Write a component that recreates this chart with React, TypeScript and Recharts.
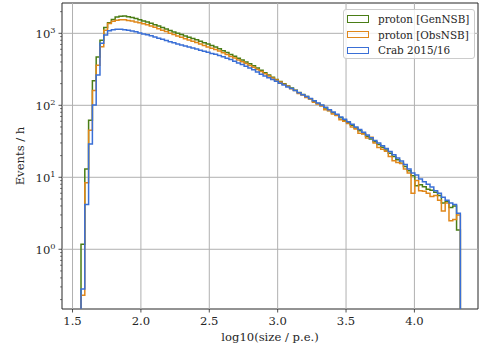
import React from "react";
import { ComposedChart, Line, XAxis, YAxis, ReferenceLine, ReferenceArea } from "recharts";

// Histogram binning (log10 of size in p.e.)
const BIN_START = 1.562;
const BIN_WIDTH = 0.02774;

const GEN_NSB = [
  1.17, 13, 62, 220, 470, 800, 1200, 1400, 1550, 1680,
  1720, 1740, 1700, 1660, 1600, 1540, 1486, 1435, 1380, 1318,
  1259, 1202, 1148, 1096, 1047, 1000, 959, 920, 883, 847,
  813, 776, 741, 708, 676, 646, 610, 574, 541, 509,
  479, 451, 425, 400, 377, 355, 330, 306, 284, 264,
  245, 229, 214, 200, 186, 174, 162, 151, 141, 132,
  123, 114, 106, 99, 92, 85, 79, 73, 67, 62,
  57.5, 52.7, 48.3, 44.3, 40.6, 37.2, 34, 31.2, 28.6, 26.2,
  24, 21.6, 19.4, 17.5, 15.7, 14.1, 12.3, 10.5, 7.6, 7.9,
  7.4, 6.8, 6.6, 6.2, 5.6, 4.4, 4.6, 3.8, 4.0, 1.85,
];

const OBS_NSB = [
  0.23, 8.4, 45, 160, 360, 650, 1100, 1370, 1470, 1520,
  1540, 1540, 1510, 1480, 1440, 1400, 1355, 1312, 1264, 1210,
  1158, 1106, 1056, 1006, 961, 917, 879, 843, 809, 775,
  744, 710, 678, 648, 622, 598, 567, 537, 509, 478,
  453, 426, 404, 380, 358, 337, 315, 294, 274, 256,
  239, 224, 211, 196, 184, 170, 160, 146, 139, 128,
  122, 110, 104, 98, 87, 84, 76, 72, 63, 60,
  56, 50, 47, 41, 40, 35, 36, 30, 26, 24.5,
  23, 19.5, 17, 16, 15.5, 13, 11.5, 6.0, 9.0, 6.5,
  6.4, 6.0, 5.4, 5.6, 4.8, 3.4, 4.4, 2.5, 2.6, 3.0,
];

const CRAB = [
  0.28, 4.2, 29, 101, 264, 725, 946, 1086, 1120, 1135,
  1135, 1120, 1100, 1080, 1050, 1009, 981, 954, 925, 890,
  856, 825, 794, 765, 737, 710, 688, 666, 645, 625,
  606, 584, 563, 544, 524, 510, 491, 471, 452, 433,
  410, 388, 368, 348, 330, 312, 290, 271, 256, 242,
  228, 215, 203, 192, 180, 171, 160, 149, 140, 132,
  124, 116, 108, 101, 94, 87, 81, 75, 69, 64,
  59.3, 54.4, 50, 46, 42.2, 38.7, 35.4, 32.5, 29.9, 27.4,
  25.2, 22.8, 20.6, 18.6, 16.8, 15.1, 13, 11.5, 10.8, 9.5,
  8.7, 8.0, 7.3, 6.5, 6.0, 5.3, 4.8, 4.4, 4.2, 3.16,
];

const X_TICKS = [1.5, 2.0, 2.5, 3.0, 3.5, 4.0];
const Y_MAJOR = [1, 10, 100, 1000];
const Y_MINOR = [0.2, 0.3, 0.4, 0.5, 0.6, 0.7, 0.8, 0.9, 2, 3, 4, 5, 6, 7, 8, 9, 20, 30, 40, 50, 60, 70, 80, 90, 200, 300, 400, 500, 600, 700, 800, 900, 2000];
const X_DOMAIN: [number, number] = [1.423, 4.465];
const Y_DOMAIN: [number, number] = [0.148, 2637];

const SERIES = [
  { key: "gen", label: "proton [GenNSB]", color: "#4a7d16", values: GEN_NSB },
  { key: "obs", label: "proton [ObsNSB]", color: "#e0871a", values: OBS_NSB },
  { key: "crab", label: "Crab 2015/16", color: "#3a6fd6", values: CRAB },
];

const FLOOR = 1e-3;

function buildRows() {
  const n = GEN_NSB.length;
  const edge = (i: number) => BIN_START + BIN_WIDTH * i;
  const rows: any[] = [];
  const row = (x: number, f: (s: any) => number) => {
    const r: any = { x };
    SERIES.forEach((s) => (r[s.key] = f(s)));
    return r;
  };
  rows.push(row(edge(0), () => FLOOR));
  for (let i = 0; i < n; i++) rows.push(row(edge(i), (s) => s.values[i]));
  rows.push(row(edge(n), (s) => s.values[n - 1]));
  rows.push(row(edge(n), () => FLOOR));
  return rows;
}

const DATA = buildRows();
const FONT = "DejaVu Serif";
const AXIS_COLOR = "#262626";
const GRID_COLOR = "#b0b0b0";
const LABEL_SIZE = 11.6;

function XTick(props: any) {
  const { x, y, payload } = props;
  return (
    <g>
      <line x1={x} x2={x} y1={y} y2={y + 3.5} stroke={AXIS_COLOR} strokeWidth={0.8} />
      <text x={x} y={y + 16} textAnchor="middle" fontFamily={FONT} fontSize={LABEL_SIZE} fill="#262626">
        {Number(payload.value).toFixed(1)}
      </text>
    </g>
  );
}

function YTick(props: any) {
  const { x, y, payload } = props;
  const v = payload.value;
  const e = Math.log10(v);
  const major = Math.abs(e - Math.round(e)) < 1e-6;
  return (
    <g>
      <line x1={x} x2={x - (major ? 3.5 : 2)} y1={y} y2={y} stroke={AXIS_COLOR} strokeWidth={major ? 0.8 : 0.6} />
      {major && (
        <text x={x - 6.5} y={y + 5} textAnchor="end" fontFamily={FONT} fontSize={LABEL_SIZE} fill="#262626">
          10
          <tspan dy={-5} fontSize={8.2}>{String(Math.round(e))}</tspan>
        </text>
      )}
    </g>
  );
}

export default function App() {
  return (
    <div style={{ position: "absolute", left: 0, top: 0, width: 479, height: 353, background: "#fff" }}>
      <ComposedChart width={479} height={353} data={DATA} margin={{ top: 3, right: 1, left: 0, bottom: 0 }}>
        <XAxis
          dataKey="x"
          type="number"
          domain={X_DOMAIN}
          allowDataOverflow
          ticks={X_TICKS}
          interval={0}
          height={44}
          tickSize={0}
          tickMargin={0}
          tickLine={false}
          axisLine={false}
          tick={<XTick />}
        />
        <YAxis
          type="number"
          scale="log"
          domain={Y_DOMAIN}
          allowDataOverflow
          ticks={[...Y_MAJOR, ...Y_MINOR]}
          interval={0}
          width={62}
          tickSize={0}
          tickMargin={0}
          tickLine={false}
          axisLine={false}
          tick={<YTick />}
        />
        {X_TICKS.map((t) => (
          <ReferenceLine key={"gx" + t} x={t} stroke={GRID_COLOR} strokeWidth={1} />
        ))}
        {Y_MAJOR.map((t) => (
          <ReferenceLine key={"gy" + t} y={t} stroke={GRID_COLOR} strokeWidth={1} />
        ))}
        {SERIES.map((s) => (
          <Line
            key={s.key}
            dataKey={s.key}
            type="stepAfter"
            stroke={s.color}
            strokeWidth={1.5}
            dot={false}
            activeDot={false}
            isAnimationActive={false}
          />
        ))}
        <ReferenceArea
          x1={X_DOMAIN[0]}
          x2={X_DOMAIN[1]}
          y1={Y_DOMAIN[0]}
          y2={Y_DOMAIN[1]}
          fill="none"
          fillOpacity={0}
          stroke={AXIS_COLOR}
          strokeWidth={1}
        />
      </ComposedChart>
      <div
        style={{
          position: "absolute",
          left: 0,
          top: 330,
          width: 540,
          textAlign: "center",
          fontFamily: FONT,
          fontSize: LABEL_SIZE,
          color: "#262626",
          lineHeight: "14px",
        }}
      >
        log10(size / p.e.)
      </div>
      <div
        style={{
          position: "absolute",
          left: 20,
          top: 156,
          transform: "translate(-50%, -50%) rotate(-90deg)",
          fontFamily: FONT,
          fontSize: LABEL_SIZE,
          color: "#262626",
          whiteSpace: "nowrap",
          lineHeight: "14px",
        }}
      >
        Events / h
      </div>
      <div
        style={{
          position: "absolute",
          left: 343,
          top: 8.5,
          width: 132,
          height: 50,
          border: "1px solid #cccccc",
          borderRadius: 3,
          background: "rgba(255,255,255,0.8)",
          boxSizing: "border-box",
        }}
      >
        {SERIES.map((s, i) => (
          <div
            key={s.key}
            style={{ position: "absolute", left: 3, top: 2.5 + i * 15.7, height: 14, display: "flex", alignItems: "center" }}
          >
            <div
              style={{ width: 22, height: 7.5, border: `1.6px solid ${s.color}`, boxSizing: "border-box", marginRight: 9 }}
            />
            <span style={{ fontFamily: FONT, fontSize: 10.4, color: "#262626", whiteSpace: "nowrap" }}>{s.label}</span>
          </div>
        ))}
      </div>
    </div>
  );
}
